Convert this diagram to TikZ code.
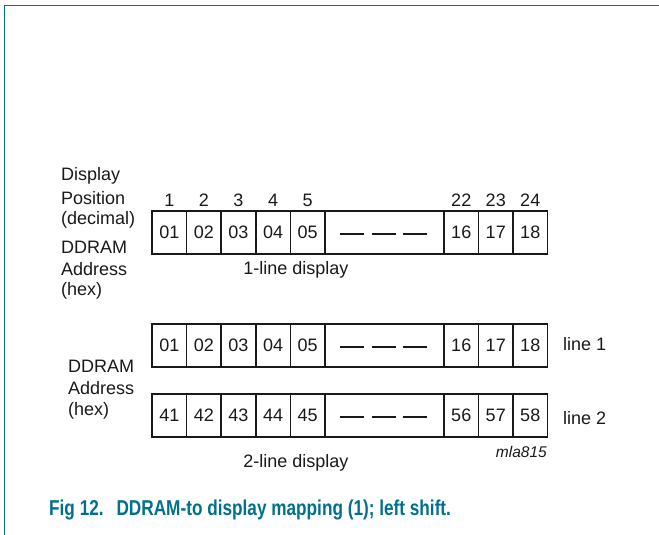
\documentclass[tikz,border=0pt]{standalone}
\usepackage{fontspec}
\setmainfont{Liberation Sans}
\usetikzlibrary{calc}
\definecolor{nxpteal}{RGB}{0,112,140}
\definecolor{ink}{RGB}{25,25,25}
\newcommand\bodyfont{\fontsize{18}{21}\selectfont}
\tikzset{
  cellbox/.style={draw=ink, line width=1.6pt, minimum width=34.6pt, minimum height=43pt, inner sep=0pt, font=\bodyfont, text=ink},
  gapbox/.style={cellbox, minimum width=119pt},
  dashbar/.style={draw=ink, line width=2pt, dash pattern=on 24pt off 7.5pt},
  lbl/.style={anchor=west, inner sep=0pt, font=\bodyfont, text=ink},
  ctr/.style={inner sep=0pt, font=\bodyfont, text=ink},
  frameline/.style={draw=nxpteal, line width=1pt}
}
\begin{document}
\begin{tikzpicture}[x=1pt,y=-1pt]
\useasboundingbox (0,0) rectangle (659,535);
% frame
\coordinate (fb) at (4,535);
\coordinate (fc) at (4,6);
\coordinate (fr) at (659,6);
\draw[frameline] (fb) -- (fc) -- (fr);

% left labels, 1-line display
\node[lbl] (l1) at (61,176) {Display};
\node[lbl] (l2) at (61,198) {Position};
\node[lbl] (l3) at (61,220) {(decimal)};
\node[lbl] (l4) at (61,247) {DDRAM};
\node[lbl] (l5) at (61,269) {Address};
\node[lbl] (l6) at (61,291) {(hex)};

% row A (1-line display)
\foreach \t [count=\i] in {01,02,03,04,05} {
  \node[cellbox] (a\i) at ({152+34.6*(\i-0.5)},232.5) {\t};
  \node[ctr] (n\i) at ({152+34.6*(\i-0.5)},200) {\i};
}
\node[gapbox] (ag) at (384.5,232.5) {};
\draw[dashbar] ([xshift=16pt,yshift=-1.5pt]ag.west) -- ([xshift=-16pt,yshift=-1.5pt]ag.east);
\foreach \t/\p [count=\i] in {16/22,17/23,18/24} {
  \node[cellbox] (ar\i) at ({444+34.5*(\i-0.5)},232.5) {\t};
  \node[ctr] (nr\i) at ({444+34.5*(\i-0.5)},200) {\p};
}
\node[ctr] (cap1) at (296,270) {1-line display};

% 2-line display
\node[lbl] (m1) at (68,366) {DDRAM};
\node[lbl] (m2) at (68,388) {Address};
\node[lbl] (m3) at (68,411) {(hex)};

\foreach \t [count=\i] in {01,02,03,04,05} {
  \node[cellbox] (b\i) at ({152+34.6*(\i-0.5)},345.5) {\t};
}
\node[gapbox] (bg) at (384.5,345.5) {};
\draw[dashbar] ([xshift=16pt,yshift=-1.5pt]bg.west) -- ([xshift=-16pt,yshift=-1.5pt]bg.east);
\foreach \t [count=\i] in {16,17,18} {
  \node[cellbox] (br\i) at ({444+34.5*(\i-0.5)},345.5) {\t};
}
\node[lbl] (line1) at (563,344) {line 1};

\foreach \t [count=\i] in {41,42,43,44,45} {
  \node[cellbox] (c\i) at ({152+34.6*(\i-0.5)},415.5) {\t};
}
\node[gapbox] (cg) at (384.5,415.5) {};
\draw[dashbar] ([xshift=16pt,yshift=-1.5pt]cg.west) -- ([xshift=-16pt,yshift=-1.5pt]cg.east);
\foreach \t [count=\i] in {56,57,58} {
  \node[cellbox] (cr\i) at ({444+34.5*(\i-0.5)},415.5) {\t};
}
\node[lbl] (line2) at (563,418) {line 2};

\node[anchor=east, inner sep=0pt, font=\fontsize{15.5}{18}\selectfont\itshape, text=ink] (mla) at (547,452) {mla815};
\node[ctr] (cap2) at (296,463) {2-line display};

% caption
\node[anchor=west, inner sep=0pt, text=nxpteal, font=\fontsize{21.5}{24}\selectfont\bfseries] (fig) at (49,510)
  {\scalebox{0.8}[1]{Fig 12.\hspace{0.75em}DDRAM-to display mapping (1); left shift.}};
\end{tikzpicture}
\end{document}
